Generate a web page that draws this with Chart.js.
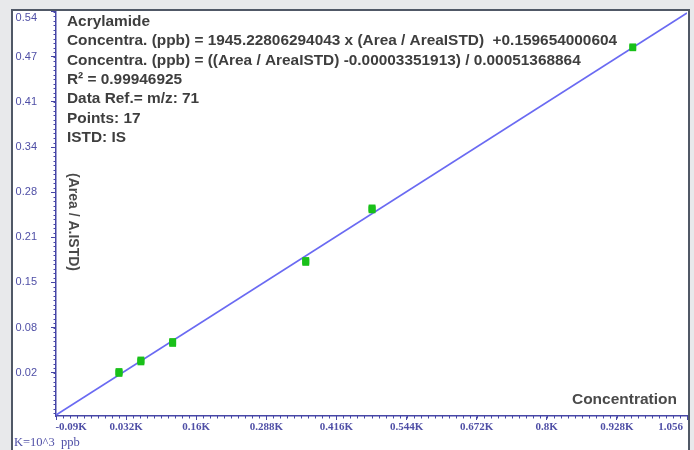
<!DOCTYPE html>
<html>
<head>
<meta charset="utf-8">
<script src="https://cdn.jsdelivr.net/npm/chart.js@4"></script>
<style>
  html, body { margin: 0; padding: 0; background: #e8e9eb; }
  #wrap { position: relative; width: 694px; height: 450px; overflow: hidden; }
  #bg { position: absolute; left: 12px; top: 10px; width: 676px; height: 445px; background: #ffffff; }
  #c { position: absolute; left: 0; top: 0; }
  #frame { position: absolute; left: 11px; top: 9px; width: 675px; height: 460px; border: 2px solid #505866; pointer-events: none; }
</style>
</head>
<body>
<div id="wrap">
  <div id="bg"></div>
  <canvas id="c" width="694" height="450"></canvas>
  <div id="frame"></div>
</div>
<script>
// ---- data (concentration in K ppb, response ratio Area / A.ISTD) ----
const concentrationK = [0.019, 0.019, 0.019, 0.059, 0.059, 0.059, 0.117, 0.117, 0.117,
                        0.360, 0.360, 0.360, 0.481, 0.481, 0.481, 0.957, 0.957];
const responseRatio  = [0.0189, 0.0203, 0.0217, 0.0355, 0.0369, 0.0383, 0.0621, 0.0635, 0.0649,
                        0.1788, 0.1802, 0.1816, 0.2545, 0.2559, 0.2573, 0.4879, 0.4893];
const fitLineX = [-0.096, 1.056];
const fitLineY = [-0.041, 0.538];

const xTickValues = [-0.096, 0.032, 0.16, 0.288, 0.416, 0.544, 0.672, 0.8, 0.928, 1.056];
const xTickLabels = ['-0.09K', '0.032K', '0.16K', '0.288K', '0.416K', '0.544K', '0.672K', '0.8K', '0.928K', '1.056'];
const yTickValues = [0.02, 0.085, 0.15, 0.215, 0.28, 0.345, 0.41, 0.475, 0.54];
const yTickLabels = ['0.02', '0.08', '0.15', '0.21', '0.28', '0.34', '0.41', '0.47', '0.54'];

const infoLines = [
  'Acrylamide',
  'Concentra. (ppb) = 1945.22806294043 x (Area / AreaISTD)  +0.159654000604',
  'Concentra. (ppb) = ((Area / AreaISTD) -0.00003351913) / 0.00051368864',
  'R\u00B2 = 0.99946925',
  'Data Ref.= m/z: 71',
  'Points: 17',
  'ISTD: IS'
];
const yTitle = '(Area / A.ISTD)';
const xTitle = 'Concentration';
const unitNote = 'K=10^3  ppb';

const AXIS = '#4646a6';
const TICKTXT = '#4f4fa6';
const TXT = '#3e3e3e';

const minorTicks = {
  id: 'minorTicks',
  afterDraw(chart) {
    const ctx = chart.ctx;
    const xs = chart.scales.x, ys = chart.scales.y;
    const a = chart.chartArea;
    ctx.save();
    ctx.strokeStyle = AXIS;
    ctx.lineWidth = 1;
    const xStep = (xTickValues[1] - xTickValues[0]) / 10;
    for (let i = 0; ; i++) {
      const v = xTickValues[0] + i * xStep;
      if (v > xs.max + 1e-9) break;
      const p = Math.round(xs.getPixelForValue(v)) + 0.5;
      ctx.beginPath(); ctx.moveTo(p, a.bottom); ctx.lineTo(p, a.bottom + 2.5); ctx.stroke();
    }
    const yStep = (yTickValues[1] - yTickValues[0]) / 10;
    for (let i = -20; i < 200; i++) {
      const v = yTickValues[0] + i * yStep;
      if (v < ys.min || v > ys.max) continue;
      const p = Math.round(ys.getPixelForValue(v)) + 0.5;
      ctx.beginPath(); ctx.moveTo(a.left - 2.5, p); ctx.lineTo(a.left, p); ctx.stroke();
    }
    ctx.restore();
  }
};

const textLayer = {
  id: 'textLayer',
  afterDraw(chart) {
    const ctx = chart.ctx;
    const a = chart.chartArea;
    ctx.save();
    ctx.fillStyle = TXT;
    ctx.font = 'bold 15.4px "Liberation Sans", Arial, sans-serif';
    ctx.textBaseline = 'middle';
    ctx.textAlign = 'left';
    infoLines.forEach((t, i) => ctx.fillText(t, a.left + 11, a.top + 10.5 + i * 19.4));

    ctx.fillStyle = '#4a4a4a';
    ctx.font = 'bold 14px "Liberation Sans", Arial, sans-serif';
    ctx.save();
    ctx.translate(a.left + 17, a.top + 211);
    ctx.rotate(Math.PI / 2);
    ctx.textAlign = 'center';
    ctx.fillText(yTitle, 0, 0);
    ctx.restore();

    ctx.font = 'bold 15.5px "Liberation Sans", Arial, sans-serif';
    ctx.textAlign = 'right';
    ctx.fillText(xTitle, a.right - 10, a.bottom - 16);

    ctx.fillStyle = TICKTXT;
    ctx.font = '12.5px "Liberation Serif", "Times New Roman", serif';
    ctx.textAlign = 'left';
    ctx.fillText(unitNote, 14, 443);
    ctx.restore();
  }
};

new Chart(document.getElementById('c'), {
  type: 'scatter',
  data: {
    datasets: [
      {
        type: 'scatter',
        data: concentrationK.map((x, i) => ({ x, y: responseRatio[i] })),
        pointStyle: 'rect',
        pointRadius: 4.8,
        backgroundColor: '#19c019',
        borderColor: '#19c019',
        borderWidth: 0,
        order: 1
      },
      {
        type: 'line',
        data: fitLineX.map((x, i) => ({ x, y: fitLineY[i] })),
        borderColor: '#6a6af2',
        borderWidth: 1.6,
        pointRadius: 0,
        fill: false,
        order: 2
      }
    ]
  },
  options: {
    responsive: false,
    animation: false,
    events: [],
    layout: { padding: { left: 0, right: 7, top: 11, bottom: 0 } },
    plugins: { legend: { display: false }, tooltip: { enabled: false } },
    scales: {
      x: {
        type: 'linear',
        min: -0.096,
        max: 1.056,
        afterBuildTicks: s => { s.ticks = xTickValues.map(v => ({ value: v })); },
        afterFit: s => { s.height = 34; s.paddingLeft = 0; s.paddingRight = 0; },
        grid: { drawOnChartArea: false, drawTicks: true, tickLength: 4, color: AXIS, lineWidth: 1 },
        border: { display: true, color: AXIS, width: 1.5 },
        ticks: {
          autoSkip: false, maxRotation: 0, minRotation: 0, padding: 1,
          color: TICKTXT,
          font: { family: '"Liberation Serif", "Times New Roman", serif', size: 11, weight: 'bold' },
          callback: (v, i) => {
            if (i === 0) return '\u00A0'.repeat(11) + xTickLabels[i];
            if (i === xTickLabels.length - 1) return xTickLabels[i] + '\u00A0'.repeat(12);
            return xTickLabels[i];
          }
        }
      },
      y: {
        type: 'linear',
        min: -0.0424,
        max: 0.5409,
        afterBuildTicks: s => { s.ticks = yTickValues.map(v => ({ value: v })); },
        afterFit: s => { s.width = 56; s.paddingTop = 0; s.paddingBottom = 0; },
        grid: { drawOnChartArea: false, drawTicks: true, tickLength: 5, color: AXIS, lineWidth: 1 },
        border: { display: true, color: AXIS, width: 1.5 },
        ticks: {
          autoSkip: false, padding: 14,
          color: TICKTXT,
          font: { family: '"Liberation Sans", Arial, sans-serif', size: 11 },
          callback: (v, i) => i === yTickLabels.length - 1 ? ['', yTickLabels[i]] : yTickLabels[i]
        }
      }
    }
  },
  plugins: [minorTicks, textLayer]
});
</script>
</body>
</html>
